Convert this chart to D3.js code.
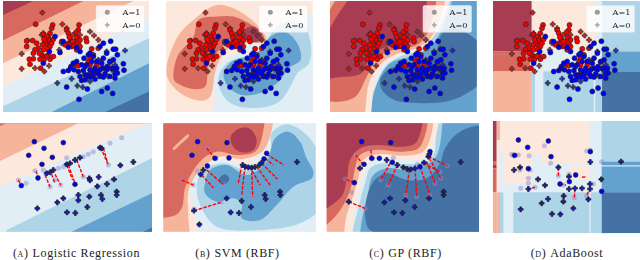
<!DOCTYPE html>
<html>
<head>
<meta charset="utf-8">
<script src="https://cdn.jsdelivr.net/npm/d3@7"></script>
<style>
  html, body { margin: 0; padding: 0; background: #fff; }
  svg { display: block; }
  .caption { font-family: "Liberation Serif", serif; font-size: 12px; letter-spacing: .62px; fill: #222; }
  .caption .tag { font-variant: small-caps; }
  .legend-text { font-family: "DejaVu Serif", serif; font-size: 8.2px; fill: #222; }
</style>
</head>
<body>
<script>
// RdBu levels, dark red to dark blue
const bandColors = ['#a83c52', '#d7695f', '#f6b49b', '#fde8dd', '#e2eef6', '#aed4e8', '#63a2cf', '#4472a5'];

const captionTags = ['(a)', '(b)', '(c)', '(d)'];
const captionNames = ['Logistic Regression', 'SVM (RBF)', 'GP (RBF)', 'AdaBoost'];
const legendLabels = ['A=1', 'A=0'];

// top row scatter, same points in all four panels
const redCircles = [[107,73],[158,75],[155,85],[150,100],[145,113],[148,125],[138,135],[130,103],[98,122],[80,123],[80,140],[110,130],[115,145],[130,150],[125,165],[135,170],[145,165],[150,178],[160,170],[100,177],[88,178],[90,193],[122,205],[140,170],[118,160],[237,75],[235,90],[228,97],[200,90],[205,100],[213,120],[225,125],[205,130],[215,140],[235,130],[240,140],[230,150],[258,115],[260,125],[295,145],[275,147],[280,165],[270,175],[300,185],[278,225],[275,215],[228,195],[235,198],[265,185],[270,195],[290,195],[305,205],[330,187],[145,120],[150,140],[185,125],[135,125],[140,110],[132,118],[155,130],[160,118],[143,148],[128,135],[105,150],[212,130],[222,138],[230,112],[240,120],[218,125],[208,112],[195,135],[100,160],[120,178],[132,180]];
const redPlus = [[127,38],[187,73],[130,100],[125,105],[83,122],[65,162],[65,207],[105,205],[147,198],[133,215],[218,105],[270,95],[282,107],[295,120],[200,85],[240,105],[178,150]];
const bluePlus = [[375,152],[172,250],[215,237],[232,258],[248,262],[185,130],[320,155],[295,180],[345,195],[335,210],[300,225],[325,230],[270,245]];
const blueCircles = [[237,299],[200,262],[262,268],[305,275],[322,265],[338,281],[245,242],[240,230],[255,225],[265,225],[280,225],[300,230],[315,222],[330,230],[345,222],[352,220],[372,211],[370,192],[340,148],[347,148],[352,165],[332,124],[310,130],[300,140],[320,160],[340,180],[330,185],[305,190],[290,185],[275,185],[265,165],[270,160],[252,175],[230,185],[220,190],[213,200],[190,215],[205,212],[212,205],[130,190],[180,158],[165,110],[190,125],[205,142],[230,143],[148,155],[240,155],[285,205],[310,205],[320,210],[270,210],[255,240],[250,212],[335,205],[300,210],[260,195],[255,200],[280,215],[290,215],[295,222],[310,232],[322,200],[340,205],[345,210],[262,232],[272,232],[285,238],[345,235],[235,215],[222,210],[310,175],[350,205],[245,195],[280,170]];

// decision regions, painted in order: [level, points]
const bandsTopLR = [
  [0, [[-99,-99],[999,-99],[999,999],[-99,999]]],
  [1, [[9,45],[100,3],[999,3],[999,999],[9,999]]],
  [2, [[9,122],[250,3],[999,3],[999,999],[9,999]]],
  [3, [[9,190],[400,3],[999,3],[999,999],[9,999]]],
  [4, [[9,262],[447,52],[999,3],[999,999],[9,999]]],
  [5, [[9,320],[447,115],[999,3],[999,999],[9,999]]],
  [6, [[155,337],[447,190],[999,50],[999,999],[155,999]]],
  [7, [[315,337],[447,275],[999,50],[999,999],[315,999]]]
];
const bandsTopSVM = [
  [3, [[-60,-60],[520,-60],[520,400],[-60,400]]],
  [4, [[160,235],[175,195],[240,150],[300,110],[360,70],[430,40],[520,60],[520,400],[175,400],[163,290]]],
  [5, [[175,230],[200,190],[300,150],[340,90],[380,65],[430,80],[450,130],[445,190],[410,220],[390,260],[350,310],[270,325],[210,310],[180,270]]],
  [6, [[190,220],[215,185],[290,160],[330,110],[370,95],[410,130],[420,180],[385,205],[350,250],[300,280],[240,285],[200,255]]],
  [2, [[20,225],[50,115],[100,60],[170,15],[230,30],[290,75],[318,122],[250,132],[200,150],[168,205],[150,290],[125,303],[60,280]]],
  [1, [[42,240],[52,170],[100,110],[115,60],[170,50],[220,50],[280,80],[310,110],[305,125],[240,125],[195,135],[165,165],[145,190],[135,260],[100,268],[60,255]]],
  [0, [[245,95],[280,80],[305,105],[290,125],[260,122]]]
];
const bandsTopGP = [
  [4, [[-60,-60],[560,-60],[560,400],[-60,400]]],
  [5, [[385,-60],[350,90],[300,150],[240,170],[200,195],[170,250],[135,400],[560,400],[560,-60]]],
  [6, [[430,-60],[375,60],[340,130],[290,165],[210,190],[175,240],[150,337],[150,400],[560,400],[560,-60]]],
  [7, [[180,240],[210,205],[300,190],[345,155],[365,100],[400,85],[440,100],[490,150],[490,235],[440,280],[380,305],[290,310],[220,300],[185,270]]],
  [3, [[385,-60],[345,100],[300,145],[240,165],[195,190],[165,240],[130,400],[-60,400],[-60,-60]]],
  [2, [[365,-60],[345,90],[300,140],[235,160],[190,185],[150,240],[110,400],[-60,400],[-60,-60]]],
  [1, [[338,-60],[325,90],[290,135],[220,150],[170,175],[140,230],[100,295],[10,295],[10,77],[112,-60]]],
  [0, [[300,-60],[310,90],[280,125],[200,140],[150,170],[125,220],[60,232],[10,232],[10,132],[150,-60]]]
];
const bandsBotLR = [
  [1, [[-99,-99],[999,-99],[999,999],[-99,999]]],
  [2, [[0,33],[20,25],[999,25],[999,999],[0,999]]],
  [3, [[0,138],[235,25],[999,25],[999,999],[0,999]]],
  [4, [[0,215],[440,25],[999,25],[999,999],[0,999]]],
  [5, [[20,345],[455,130],[999,25],[999,999],[20,999]]],
  [6, [[215,350],[455,235],[999,100],[999,999],[215,999]]],
  [7, [[430,350],[455,338],[999,300],[999,999],[430,999]]]
];
const bandsBotSVM = [
  [3, [[-60,-60],[520,-60],[520,420],[-60,420]]],
  [4, [[90,230],[110,160],[180,130],[260,150],[310,90],[320,20],[520,-60],[520,400],[140,400],[105,290]]],
  [5, [[110,225],[125,170],[190,145],[265,165],[330,110],[335,55],[380,28],[440,60],[490,150],[490,270],[420,325],[300,345],[170,335],[125,280]]],
  [6, [[135,205],[150,165],[200,150],[260,180],[320,140],[345,70],[385,50],[420,80],[440,130],[460,170],[455,190],[400,215],[350,270],[300,315],[245,310],[245,265],[220,250],[170,260],[135,235]]],
  [7, [[178,190],[195,178],[208,192],[195,208],[180,205]]],
  [2, [[-60,-60],[325,-60],[315,100],[250,132],[180,125],[120,165],[85,230],[85,300],[80,420],[-60,420]]],
  [1, [[-60,-60],[300,-60],[305,70],[285,110],[230,120],[170,110],[130,130],[95,175],[75,220],[65,280],[40,303],[-60,290]]],
  [0, [[212,65],[240,40],[270,42],[290,75],[280,105],[245,112],[220,95]]],
  [2, [[38,102],[60,78],[85,58],[88,62],[65,85],[42,105]]]
];
const bandsBotGP = [
  [4, [[-60,-60],[560,-60],[560,420],[-60,420]]],
  [5, [[365,-60],[335,130],[260,148],[190,145],[150,160],[135,205],[120,260],[105,420],[560,420],[560,-60]]],
  [6, [[395,-60],[345,130],[270,165],[200,160],[160,180],[145,230],[135,420],[560,420],[560,-60]]],
  [7, [[500,38],[420,50],[375,100],[360,145],[320,190],[260,195],[200,175],[160,200],[140,250],[135,300],[150,345],[250,352],[500,352]]],
  [3, [[345,-60],[320,125],[260,135],[185,130],[145,145],[125,195],[105,280],[75,420],[-60,420],[-60,-60]]],
  [2, [[325,-60],[315,105],[255,122],[175,118],[130,135],[115,190],[100,240],[80,300],[50,420],[-60,420],[-60,-60]]],
  [1, [[310,-60],[300,95],[250,110],[165,105],[120,120],[105,160],[95,210],[70,270],[30,320],[-60,370],[-60,-60]]],
  [0, [[295,-60],[290,80],[250,95],[170,90],[120,100],[90,135],[80,195],[60,250],[-60,300],[-60,-60]]]
];

// AdaBoost regions are boxes: [level, x0, y0, x1, y1]
const boxesTop = [
  [3,155,3,345,150],[4,345,3,365,150],[4,155,150,365,337],
  [0,40,3,155,155],[1,40,155,155,165],[1,40,165,150,215],[2,40,215,155,337],
  [3,150,165,155,215],[5,155,215,165,337],[5,190,215,340,337],[5,345,215,365,337],
  [5,365,3,480,155],[6,365,155,480,215],[7,365,215,480,337]
];
const boxesBot = [
  [3,60,18,330,105],[3,70,105,155,205],[3,155,105,185,120],[3,185,105,330,145],[3,270,150,330,195],
  [0,38,18,50,140],[1,38,140,50,150],[0,38,150,50,160],[1,38,160,50,232],[2,38,232,50,355],
  [2,50,18,60,75],[2,50,232,60,355],[3,50,75,60,232],
  [5,60,232,70,355],[5,100,232,328,355],[5,332,232,365,355],
  [5,365,18,480,140],[6,365,140,480,150],[5,365,150,480,155],[6,365,155,480,232],[7,365,232,480,355]
];

// bottom row: points after repair, faint originals, moves as [x0,y0,x1,y1]
const lrCircles = [[103,80],[190,83],[132,100],[86,121],[157,127],[126,148],[114,189],[64,212],[225,208]];
const lrPlus = [[400,141],[361,151],[296,186],[342,193],[321,207],[292,214],[235,240],[235,256],[268,245],[303,240],[307,252],[350,230],[350,240],[190,250],[172,262],[262,276],[112,280],[201,292],[226,294],[268,190],[270,196],[140,175],[150,172],[160,165],[200,148],[210,145],[225,135],[240,128],[300,98],[305,100]];
const lrFaint = [[365,68],[330,85],[300,100],[280,110],[265,118],[250,125],[228,135],[190,155],[175,160],[130,165],[105,167],[78,205],[55,195],[200,128],[325,150],[250,185],[182,210],[150,215],[165,195]];
const lrMoves = [[302,98,325,150],[310,100,322,140],[230,135,250,185],[205,150,225,205],[200,150,218,195],[165,178,182,210],[155,178,165,205],[135,180,150,215],[108,168,114,185],[55,195,64,212]];

const svmCircles = [[113,80],[201,83],[96,121],[165,130],[207,129],[142,153],[320,115],[312,132]];
const svmPlus = [[411,141],[200,250],[245,258],[273,276],[212,292],[237,294],[314,240],[317,252],[360,230],[361,240],[102,287],[118,328],[122,178],[130,165],[248,150],[256,155],[265,157],[275,158],[285,156],[298,150],[305,143]];
const svmFaint = [[372,150],[340,150],[235,205],[245,240],[278,245],[330,210],[352,192],[300,210],[190,208],[160,218],[100,210],[65,195],[183,262],[142,100],[102,282],[118,330],[112,168],[168,130]];
const svmMoves = [[320,118,372,150],[315,130,340,150],[245,150,235,205],[255,155,245,240],[275,155,278,245],[290,155,330,210],[305,145,352,192],[270,155,300,210],[140,165,190,208],[125,180,160,218],[65,195,100,210],[102,287,183,262],[140,100,165,130]];

const gpCircles = [[125,80],[212,83],[132,148],[103,203],[155,130],[178,130],[217,142],[300,155],[330,110]];
const gpPlus = [[422,141],[210,250],[193,262],[256,256],[284,276],[222,292],[247,294],[327,250],[371,230],[371,240],[86,260],[120,160],[200,135],[232,150],[250,157],[262,162],[272,163],[285,160],[312,143],[325,125],[328,118]];
const gpFaint = [[382,152],[362,190],[345,205],[330,240],[290,245],[258,240],[205,210],[182,195],[360,170],[107,120],[152,100],[75,192],[135,280],[95,232],[220,128],[158,130],[292,148]];
const gpMoves = [[325,125,382,152],[328,130,362,190],[320,140,345,205],[300,155,330,240],[285,160,290,245],[268,165,258,240],[232,150,205,210],[210,145,182,195],[310,145,360,170],[130,150,107,120],[155,130,152,100],[103,203,75,192],[86,260,135,280]];

const adaCircles = [[115,75],[205,78],[143,97],[213,125],[104,121],[145,161],[287,180],[331,110],[268,200],[240,207],[365,229]];
const adaPlus = [[423,140],[364,193],[331,141],[330,207],[120,157],[102,165],[145,222],[174,193],[195,211],[235,157],[267,185],[267,222],[285,220],[306,220],[330,222],[251,243],[250,260],[185,265],[204,252],[325,253],[280,280],[122,283],[216,297],[241,298]];
const adaFaint = [[95,118],[115,120],[193,92],[147,122],[212,145],[145,190],[145,205],[122,220],[165,217],[235,182],[267,178],[283,248],[320,242],[340,207],[365,140],[330,105],[320,108],[100,122],[120,165],[150,165],[250,210]];
const adaMoves = [[235,157,235,182],[165,217,145,222],[240,207,258,210],[306,187,320,185],[325,230,320,242],[285,222,283,248],[368,233,360,228],[120,155,120,165],[102,120,107,125],[328,107,335,112]];

const width = 640, height = 260;
const svg = d3.select('body').append('svg').attr('width', width).attr('height', height);
const plot = svg.append('g').style('filter', 'blur(0.35px)');

const crossPath = d3.symbol().type(d3.symbolCross).size(13)();

function makeScales(name, range, domain) {
  let x = d3.scaleLinear().domain(domain.x).range(range.x);
  let y = d3.scaleLinear().domain(domain.y).range(range.y);
  svg.append('clipPath').attr('id', name).append('rect')
    .attr('x', range.x[0]).attr('y', range.y[0])
    .attr('width', range.x[1] - range.x[0]).attr('height', range.y[1] - range.y[0]);
  let g = plot.append('g').attr('clip-path', 'url(#' + name + ')');
  return { x, y, g, range };
}

function drawBands(p, bands, curve) {
  let line = d3.line().x(d => p.x(d[0])).y(d => p.y(d[1])).curve(curve);
  p.g.selectAll('path.band').data(bands).join('path')
    .attr('class', 'band')
    .attr('fill', d => bandColors[d[0]])
    .attr('d', d => line(d[1]));
}

function drawBoxes(p, boxes, base) {
  p.g.append('rect')
    .attr('x', p.range.x[0]).attr('y', p.range.y[0])
    .attr('width', p.range.x[1] - p.range.x[0]).attr('height', p.range.y[1] - p.range.y[0])
    .attr('fill', bandColors[base]);
  p.g.selectAll('rect.box').data(boxes).join('rect')
    .attr('class', 'box')
    .attr('fill', d => bandColors[d[0]])
    .attr('x', d => p.x(d[1])).attr('y', d => p.y(d[2]))
    .attr('width', d => p.x(d[3]) - p.x(d[1])).attr('height', d => p.y(d[4]) - p.y(d[2]));
}

function circles(p, pts, color, r, alpha, edge) {
  p.g.append('g').selectAll('circle').data(pts).join('circle')
    .attr('cx', d => p.x(d[0])).attr('cy', d => p.y(d[1])).attr('r', r)
    .attr('fill', color).attr('opacity', alpha)
    .attr('stroke', edge).attr('stroke-width', edge == 'none' ? 0 : 0.6);
}

function crosses(p, pts, color, alpha, edge) {
  p.g.append('g').selectAll('path').data(pts).join('path')
    .attr('transform', d => 'translate(' + p.x(d[0]) + ',' + p.y(d[1]) + ')')
    .attr('d', crossPath)
    .attr('fill', color).attr('opacity', alpha)
    .attr('stroke', edge).attr('stroke-width', edge == 'none' ? 0 : 0.8);
}

function drawMoves(p, moves) {
  p.g.append('g').selectAll('line').data(moves).join('line')
    .attr('x1', d => p.x(d[0])).attr('y1', d => p.y(d[1]))
    .attr('x2', d => p.x(d[2])).attr('y2', d => p.y(d[3]))
    .attr('stroke', '#f00').attr('stroke-width', 1.4).attr('stroke-dasharray', '3.5,1.4');
}

function drawLegend(left, top) {
  let g = plot.append('g').attr('transform', 'translate(' + (left + 93) + ',' + (top + 4.5) + ')');
  g.append('rect').attr('width', 48.5).attr('height', 26.8).attr('rx', 1.5)
    .attr('fill', '#fff').attr('fill-opacity', 0.82).attr('stroke', '#e6e6e6').attr('stroke-width', 0.5);
  g.append('circle').attr('cx', 11.3).attr('cy', 6.8).attr('r', 2.5).attr('fill', '#9a9a9a');
  g.append('path').attr('transform', 'translate(11.3,19.5)').attr('d', crossPath).attr('fill', '#a8a8a8');
  g.selectAll('text').data(legendLabels).join('text')
    .attr('class', 'legend-text')
    .attr('x', 26.5).attr('y', (d, i) => 9.8 + i * 12.7)
    .text(d => d);
}

// top row
const topPanels = [
  { left: 3, right: 149, bands: bandsTopLR, curve: d3.curveLinearClosed, shift: 0 },
  { left: 166, right: 312.7, bands: bandsTopSVM, curve: d3.curveCatmullRomClosed, shift: 9 },
  { left: 330, right: 476.7, bands: bandsTopGP, curve: d3.curveCatmullRomClosed, shift: 21 },
  { left: 493, right: 640, boxes: boxesTop, shift: 31 }
];

topPanels.forEach((t, i) => {
  let p = makeScales('top' + i, { x: [t.left, t.right], y: [1, 112] }, { x: [9, 447], y: [3, 337] });
  // region outlines were read in each panel's own crop, so shift them back
  let s = t.shift;
  if (t.boxes) {
    drawBoxes(p, t.boxes.map(b => [b[0], b[1] - s, b[2], b[3] - s, b[4]]), 4);
  } else {
    drawBands(p, t.bands.map(b => [b[0], b[1].map(q => [q[0] - s, q[1]])]), t.curve);
  }
  crosses(p, redPlus, '#f01010', 0.95, '#333');
  circles(p, redCircles, '#f50000', 2.5, 1, '#222');
  crosses(p, bluePlus, '#2020d0', 0.95, '#333');
  circles(p, blueCircles, '#0000f5', 2.5, 1, '#222');
  drawLegend(t.left, 1);
});

// bottom row
const botPanels = [
  { x: [0, 152], y: [123.3, 231.7], dx: [0, 456], dy: [25, 350], bands: bandsBotLR, curve: d3.curveLinearClosed, c: lrCircles, k: lrPlus, f: lrFaint, m: lrMoves },
  { x: [163.3, 315.7], y: [123.3, 231.7], dx: [10, 467], dy: [25, 350], bands: bandsBotSVM, curve: d3.curveCatmullRomClosed, c: svmCircles, k: svmPlus, f: svmFaint, m: svmMoves },
  { x: [326.7, 479], y: [123.3, 231.7], dx: [20, 477], dy: [25, 350], bands: bandsBotGP, curve: d3.curveCatmullRomClosed, c: gpCircles, k: gpPlus, f: gpFaint, m: gpMoves },
  { x: [492.7, 640], y: [121, 233.3], dx: [38, 480], dy: [18, 355], boxes: boxesBot, c: adaCircles, k: adaPlus, f: adaFaint, m: adaMoves }
];

botPanels.forEach((b, i) => {
  let p = makeScales('bot' + i, { x: b.x, y: b.y }, { x: b.dx, y: b.dy });
  if (b.boxes) drawBoxes(p, b.boxes, 4);
  else drawBands(p, b.bands, b.curve);
  circles(p, b.f, '#8c8ccc', 2.5, 0.5, 'none');
  drawMoves(p, b.m);
  circles(p, b.c, '#0000f0', 2.4, 1, '#222');
  crosses(p, b.k, '#1515d0', 1, '#222');
});

// captions, only the tag is in small caps
const captionX = [76.5, 237.5, 405.5, 567];
const caps = svg.selectAll('text.caption').data(captionNames).join('text')
  .attr('class', 'caption')
  .attr('x', (d, i) => captionX[i]).attr('y', 256.5)
  .attr('text-anchor', 'middle');
caps.append('tspan').attr('class', 'tag').text((d, i) => captionTags[i]);
caps.append('tspan').attr('dx', 4).text(d => d);
</script>
</body>
</html>
